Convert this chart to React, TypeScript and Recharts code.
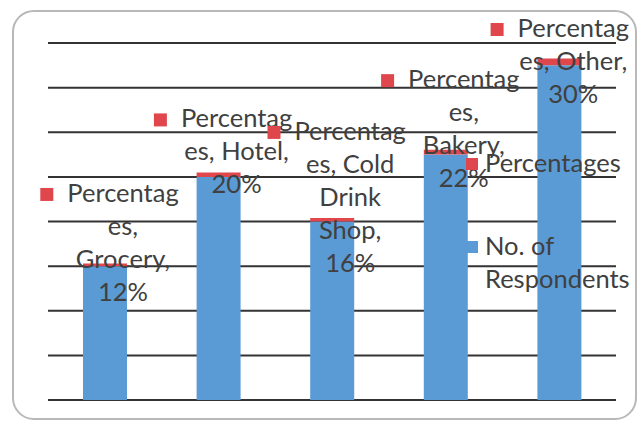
import React from 'react';
import { BarChart, Bar, XAxis, YAxis, CartesianGrid, LabelList, Legend } from 'recharts';

const categories = ['Grocery', 'Hotel', 'Cold Drink Shop', 'Bakery', 'Other'];
const respondents = [6, 10, 8, 11, 15];
const percentages = [12, 20, 16, 22, 30];
const yTicks = [0, 2, 4, 6, 8, 10, 12, 14, 16];
const respondentsName = 'No. of Respondents';
const percentagesName = 'Percentages';

const BLUE = '#5B9BD5';
const RED = '#E0474C';
const TEXT = '#404040';
const FONT = 'Lato, "Liberation Sans", sans-serif';
const FONT_SIZE = 25.5;
const LABEL_WIDTH = 114.5;
const LINE_H = 33;

const data = categories.map((c, i) => ({
  category: c,
  respondents: respondents[i],
  pct: percentages[i] / 100,
}));

let ctx: CanvasRenderingContext2D | null = null;
function measure(s: string): number {
  if (!ctx) ctx = document.createElement('canvas').getContext('2d');
  if (!ctx) return s.length * 12;
  ctx.font = `${FONT_SIZE}px Lato`;
  return ctx.measureText(s).width;
}

function wrap(text: string, maxW: number): string[] {
  const words = text.split(' ');
  const lines: string[] = [];
  let cur = '';
  for (const w of words) {
    const cand = cur ? cur + ' ' + w : w;
    if (measure(cand) <= maxW) {
      cur = cand;
      continue;
    }
    if (cur) {
      lines.push(cur);
      cur = '';
    }
    let rest = w;
    while (measure(rest) > maxW) {
      let k = rest.length;
      while (k > 1 && measure(rest.slice(0, k)) > maxW) k--;
      lines.push(rest.slice(0, k));
      rest = rest.slice(k);
    }
    cur = rest;
  }
  if (cur) lines.push(cur);
  return lines;
}

const renderLabel = (props: any) => {
  const { x, y, width, value } = props;
  const i = categories.indexOf(value);
  if (i < 0) return null;
  const text = `${percentagesName}, ${categories[i]}, ${percentages[i]}%`;
  const lines = wrap(text, LABEL_WIDTH);
  const maxLineW = Math.max(...lines.map(measure));
  const cx = Math.min(Number(x) + Number(width) / 2 + 18, 629 - maxLineW / 2);
  let first = Number(y) - 12 - ((lines.length - 1) * LINE_H) / 2;
  first = Math.max(first, 37);
  const firstW = measure(lines[0]);
  return (
    <g>
      <rect x={cx - firstW / 2 - 27} y={first - 14} width={13} height={13} fill={RED} />
      <text fontFamily={FONT} fontSize={FONT_SIZE} fill={TEXT} textAnchor="middle">
        {lines.map((l, k) => (
          <tspan key={k} x={cx} y={first + k * LINE_H}>
            {l}
          </tspan>
        ))}
      </text>
    </g>
  );
};

const legendItems = [
  { name: percentagesName, color: RED },
  { name: respondentsName, color: BLUE },
];

const renderLegend = () => (
  <div
    style={{
      position: 'relative',
      width: 175,
      height: 180,
      fontFamily: FONT,
      fontSize: FONT_SIZE,
      color: TEXT,
      lineHeight: `${LINE_H}px`,
    }}
  >
    {legendItems.map((it, k) => (
      <div key={it.name} style={{ position: 'absolute', left: 0, top: k * 83, width: 175 }}>
        <div
          style={{
            position: 'absolute',
            left: 3,
            top: 12,
            width: 12,
            height: 12,
            background: it.color,
          }}
        />
        <div style={{ position: 'absolute', left: 22, top: 0, width: 152 }}>{it.name}</div>
      </div>
    ))}
  </div>
);

export default function App() {
  return (
    <div
      style={{
        position: 'absolute',
        left: 0,
        top: 0,
        width: 641,
        height: 427,
        background: '#fff',
        overflow: 'hidden',
      }}
    >
      <div
        style={{
          position: 'absolute',
          left: 12,
          top: 10,
          width: 625,
          height: 410,
          boxSizing: 'border-box',
          border: '2px solid #b8b8b8',
          borderRadius: 22,
        }}
      />
      <div style={{ position: 'absolute', left: 0, top: 0 }}>
        <BarChart
          width={641}
          height={427}
          data={data}
          margin={{ top: 43, right: 25, bottom: 27, left: 48 }}
          barSize={44}
        >
          <CartesianGrid vertical={false} stroke="#333" strokeWidth={2} />
          <XAxis dataKey="category" hide />
          <YAxis hide domain={[0, 16]} ticks={yTicks} />
          <Legend
            layout="vertical"
            align="center"
            verticalAlign="middle"
            width={175}
            height={180}
            wrapperStyle={{ left: 463, top: 146, width: 175, height: 180 }}
            content={renderLegend}
          />
          <Bar
            dataKey="respondents"
            name={respondentsName}
            stackId="a"
            fill={BLUE}
            isAnimationActive={false}
          />
          <Bar dataKey="pct" name={percentagesName} stackId="a" fill={RED} isAnimationActive={false}>
            <LabelList dataKey="category" content={renderLabel} />
          </Bar>
        </BarChart>
      </div>
    </div>
  );
}
